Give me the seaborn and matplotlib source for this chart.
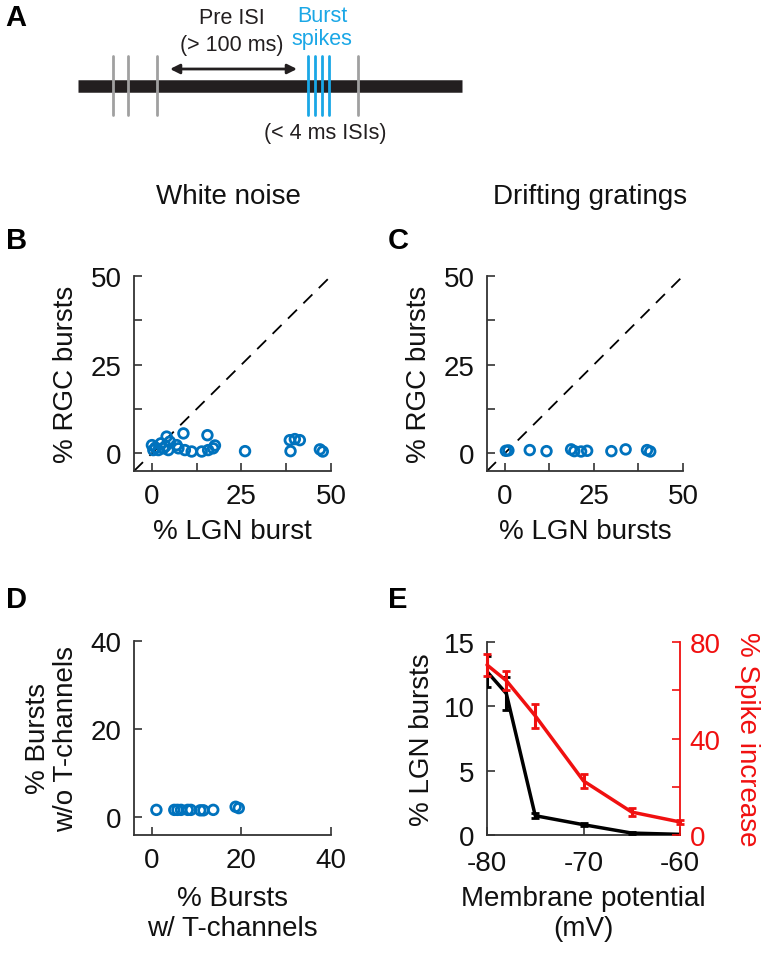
import numpy as np
import pandas as pd
import matplotlib
matplotlib.use("Agg")
import matplotlib.pyplot as plt
import seaborn as sns

sns.set_theme(style="white")
plt.rcParams['font.family'] = ['Liberation Sans', 'DejaVu Sans']
plt.rcParams['axes.unicode_minus'] = False
plt.rcParams['text.color'] = 'black'
plt.rcParams['axes.labelcolor'] = 'black'
plt.rcParams['xtick.color'] = 'black'
plt.rcParams['ytick.color'] = 'black'

# ---------------- data ----------------
# Panel A schematic (spike times in schematic units)
gray_spikes = [113, 128, 157, 358]
burst_spikes = [308, 315, 322, 329]

# Panel B: White noise
b_lgn = [0.0, 0.4, 1.8, 3.2, 4.1, 5.0, 4.6, 6.9, 7.4, 8.8, 9.2, 11.1, 13.9, 15.5,
         15.7, 17.1, 17.6, 26.0, 38.5, 39.9, 41.3, 38.7, 46.9, 47.7, 1.0, 2.5, 3.8]
b_rgc = [2.3, 0.9, 0.9, 1.4, 4.7, 3.3, 0.9, 2.3, 1.4, 5.6, 0.9, 0.5, 0.5, 5.1,
         0.9, 1.4, 2.2, 0.6, 3.7, 4.0, 3.7, 0.6, 1.1, 0.5, 1.6, 2.8, 2.0]

# Panel C: Drifting gratings
c_lgn = [0.3, 1.0, 7.0, 11.7, 18.6, 19.5, 21.4, 23.1, 29.9, 33.9, 39.9, 40.8]
c_rgc = [0.7, 0.8, 0.9, 0.6, 1.1, 0.6, 0.5, 0.7, 0.6, 1.1, 0.9, 0.5]

# Panel D
d_with = [1.0, 5.0, 5.7, 6.5, 8.0, 8.7, 10.8, 11.5, 13.7, 18.7, 19.4]
d_without = [1.7, 1.7, 1.7, 1.7, 1.7, 1.7, 1.6, 1.6, 1.7, 2.4, 2.1]

# Panel E
vm = [-80, -78, -75, -70, -65, -60]
lgn_bursts = [12.7, 11.0, 1.5, 0.8, 0.15, 0.05]
lgn_err = [1.2, 1.3, 0.2, 0.1, 0.1, 0.05]
spike_inc = [70.5, 64.0, 49.4, 22.4, 9.5, 5.4]
spike_err = [4.5, 4.0, 5.0, 3.0, 1.5, 1.0]

# ---------------- style ----------------
W, H = 766, 962
FS = 20
BLUE = '#0072BD'
RED = '#F01010'
SPINE = '#333333'
INK = '#111111'

fig = plt.figure(figsize=(W / 100, H / 100), dpi=100)


def px_axes(left, top, right, bottom):
    return fig.add_axes([left / W, 1 - bottom / H, (right - left) / W, (bottom - top) / H])


def style_axes(ax):
    for s in ['top', 'right']:
        ax.spines[s].set_visible(False)
    for s in ['left', 'bottom']:
        ax.spines[s].set_color(SPINE)
        ax.spines[s].set_linewidth(1.3)
    ax.tick_params(which='both', direction='in', length=6, width=1.2, color=SPINE,
                   labelsize=FS, labelcolor=INK, pad=9, left=True, bottom=True)
    ax.set_facecolor('none')


def scatter(ax, x, y):
    df = pd.DataFrame({'x': x, 'y': y})
    sns.scatterplot(data=df, x='x', y='y', ax=ax, s=48, marker='o',
                    facecolor='none', edgecolor=BLUE, linewidth=2.0, clip_on=False,
                    zorder=3)


# ---------------- Panel A ----------------
axA = fig.add_axes([0, 1 - 150 / H, 1, 150 / H])
axA.set_xlim(0, W)
axA.set_ylim(150, 0)
axA.axis('off')
axA.plot([78, 462], [87, 87], color='#231f20', lw=9, solid_capstyle='butt', zorder=1)
for xs in gray_spikes:
    axA.plot([xs, xs], [57, 116], color='#a0a0a0', lw=2, zorder=2)
for xs in burst_spikes:
    axA.plot([xs, xs], [57, 116], color='#1aa7e6', lw=2, zorder=3)
axA.annotate('', xy=(297, 70), xytext=(170, 70),
             arrowprops=dict(arrowstyle='<|-|>', color='#231f20', lw=2,
                             mutation_scale=14, shrinkA=0, shrinkB=0))
axA.text(232, 18, 'Pre ISI', ha='center', va='center', fontsize=15.5, color='#231f20')
axA.text(232, 45, '(> 100 ms)', ha='center', va='center', fontsize=15.5, color='#231f20')
axA.text(322, 17, 'Burst', ha='center', va='center', fontsize=15.5, color='#1aa7e6')
axA.text(322, 40, 'spikes', ha='center', va='center', fontsize=15.5, color='#1aa7e6')
axA.text(325, 134, '(< 4 ms ISIs)', ha='center', va='center', fontsize=15.5, color='#231f20')
axA.text(5, 18, 'A', ha='left', va='center', fontsize=21, fontweight='bold', color='black')

# panel letters and titles
fig.text(228 / W, 1 - 197 / H, 'White noise', ha='center', va='center', fontsize=FS, color=INK)
fig.text(590 / W, 1 - 197 / H, 'Drifting gratings', ha='center', va='center', fontsize=FS, color=INK)
for letter, x, y in [('B', 6, 241), ('C', 388, 241), ('D', 6, 600), ('E', 388, 600)]:
    fig.text(x / W, 1 - y / H, letter, ha='left', va='center', fontsize=21,
             fontweight='bold', color='black')

# ---------------- Panel B ----------------
axB = px_axes(134, 277, 331, 472)
scatter(axB, b_lgn, b_rgc)
axB.plot([-5, 50], [-5, 50], color='black', lw=1.3, dashes=(7, 5), zorder=2)
axB.set_xlim(-5, 50)
axB.set_ylim(-5, 50)
style_axes(axB)
for axis in [axB.xaxis, axB.yaxis]:
    axis.set_major_locator(matplotlib.ticker.FixedLocator([0, 25, 50]))
    axis.set_minor_locator(matplotlib.ticker.FixedLocator([12.5, 37.5]))
axB.tick_params(which='minor', direction='in', length=6, width=1.2, color=SPINE, left=True, bottom=True)
axB.set_xlabel('% LGN burst', fontsize=FS, labelpad=6, color=INK)
axB.set_ylabel('% RGC bursts', fontsize=FS, labelpad=8, color=INK)

# ---------------- Panel C ----------------
axC = px_axes(487, 277, 683, 472)
scatter(axC, c_lgn, c_rgc)
axC.plot([-5, 50], [-5, 50], color='black', lw=1.3, dashes=(7, 5), zorder=2)
axC.set_xlim(-5, 50)
axC.set_ylim(-5, 50)
style_axes(axC)
for axis in [axC.xaxis, axC.yaxis]:
    axis.set_major_locator(matplotlib.ticker.FixedLocator([0, 25, 50]))
    axis.set_minor_locator(matplotlib.ticker.FixedLocator([12.5, 37.5]))
axC.tick_params(which='minor', direction='in', length=6, width=1.2, color=SPINE, left=True, bottom=True)
axC.set_xlabel('% LGN bursts', fontsize=FS, labelpad=6, color=INK)
axC.set_ylabel('% RGC bursts', fontsize=FS, labelpad=8, color=INK)

# ---------------- Panel D ----------------
axD = px_axes(134, 642, 331, 836)
scatter(axD, d_with, d_without)
axD.set_xlim(-4, 40)
axD.set_ylim(-4, 40)
style_axes(axD)
axD.set_xticks([0, 20, 40])
axD.set_yticks([0, 20, 40])
axD.set_xlabel('% Bursts\nw/ T-channels', fontsize=FS, labelpad=8, linespacing=1.2, color=INK)
axD.set_ylabel('% Bursts\nw/o T-channels', fontsize=FS, labelpad=8, linespacing=1.1, color=INK)

# ---------------- Panel E ----------------
axE = px_axes(487, 643, 680, 836)
dfE = pd.DataFrame({'vm': vm, 'lgn': lgn_bursts, 'spk': spike_inc})
sns.lineplot(data=dfE, x='vm', y='lgn', ax=axE, color='black', lw=2.5, zorder=3)
axE.errorbar(vm, lgn_bursts, yerr=lgn_err, fmt='none', ecolor='black', elinewidth=2.2,
             capsize=3, capthick=2, zorder=3)
axE.set_xlim(-80, -60)
axE.set_ylim(0, 15)
style_axes(axE)
axE.tick_params(axis='x', pad=11)
axE.set_xticks([-80, -70, -60])
axE.set_yticks([0, 5, 10, 15])
axE.set_xlabel('Membrane potential\n(mV)', fontsize=FS, labelpad=6, linespacing=1.2, color=INK)
axE.set_ylabel('% LGN bursts', fontsize=FS, labelpad=6, color=INK)

axE2 = axE.twinx()
sns.lineplot(data=dfE, x='vm', y='spk', ax=axE2, color=RED, lw=2.5, zorder=3, clip_on=False)
axE2.errorbar(vm, spike_inc, yerr=spike_err, fmt='none', ecolor=RED, elinewidth=2.2,
              capsize=3, capthick=2, zorder=3, clip_on=False)
axE2.set_xlim(-80, -60)
axE2.set_ylim(0, 80)
for s in ['top', 'left', 'bottom']:
    axE2.spines[s].set_visible(False)
axE2.spines['right'].set_color(RED)
axE2.spines['right'].set_linewidth(1.3)
axE2.set_yticks([0, 20, 40, 60, 80])
axE2.set_yticklabels(['0', '', '40', '', '80'])
axE2.tick_params(axis='y', direction='in', length=6, width=1.2, color=RED,
                 labelcolor=RED, labelsize=FS, pad=7, right=True)
axE2.set_ylabel('% Spike increase', fontsize=FS, color=RED, rotation=-90,
                labelpad=28)
axE2.set_xlabel('')

fig.savefig('out.png', dpi=100)
